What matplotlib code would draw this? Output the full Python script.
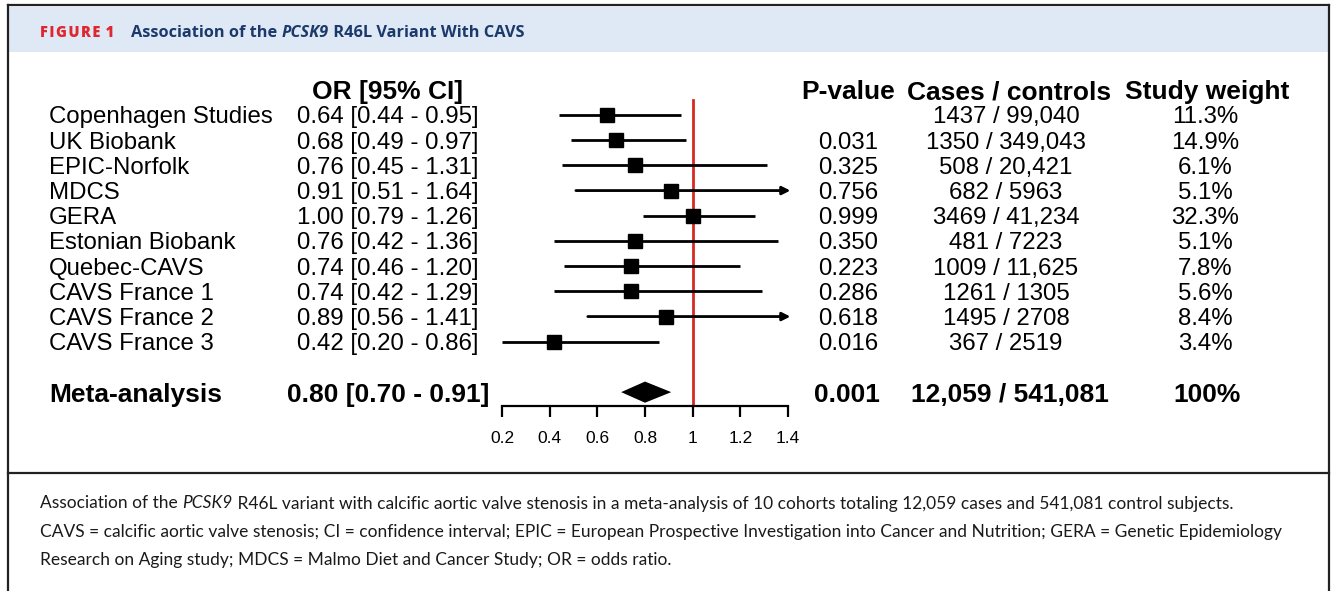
import matplotlib.pyplot as plt
from matplotlib.lines import Line2D
from matplotlib.patches import Rectangle
from matplotlib.transforms import blended_transform_factory

STUDIES = [
    "Copenhagen Studies", "UK Biobank", "EPIC-Norfolk", "MDCS", "GERA",
    "Estonian Biobank", "Quebec-CAVS", "CAVS France 1", "CAVS France 2", "CAVS France 3",
]
OR_EST = [0.64, 0.68, 0.76, 0.91, 1.00, 0.76, 0.74, 0.74, 0.89, 0.42]
CI_LOW = [0.44, 0.49, 0.45, 0.51, 0.79, 0.42, 0.46, 0.42, 0.56, 0.20]
CI_HIGH = [0.95, 0.97, 1.31, 1.64, 1.26, 1.36, 1.20, 1.29, 1.41, 0.86]
P_VALUES = ["", "0.031", "0.325", "0.756", "0.999", "0.350", "0.223", "0.286", "0.618", "0.016"]
CASES_CONTROLS = [
    "1437 / 99,040", "1350 / 349,043", "508 / 20,421", "682 / 5963", "3469 / 41,234",
    "481 / 7223", "1009 / 11,625", "1261 / 1305", "1495 / 2708", "367 / 2519",
]
WEIGHTS = ["11.3%", "14.9%", "6.1%", "5.1%", "32.3%", "5.1%", "7.8%", "5.6%", "8.4%", "3.4%"]

META_OR, META_LOW, META_HIGH = 0.80, 0.70, 0.91
META_P = "0.001"
META_CASES = "12,059 / 541,081"
META_WEIGHT = "100%"

X_TICKS = [0.2, 0.4, 0.6, 0.8, 1.0, 1.2, 1.4]
X_MIN, X_MAX = 0.2, 1.4

W, H = 1336, 591
FONT = "Liberation Sans"
TITLE_FONT = "Open Sans"
CAPTION_FONT = "Lato"
NAVY = "#1b3a6b"
RED = "#e0262f"


def fx(px):
    return px / W


def fy(py):
    return 1 - py / H


plt.rcParams["font.family"] = [FONT, "DejaVu Sans"]
fig = plt.figure(figsize=(W / 100, H / 100), dpi=100)

# frame, header band and separator
fig.add_artist(Rectangle((fx(9), fy(52)), fx(1328) - fx(9), fy(7) - fy(52),
                         transform=fig.transFigure, color="#dee9f5", lw=0, zorder=-5))
for xs, ys in [((8, 8), (5, 591)), ((1329, 1329), (5, 591)),
               ((8, 1329), (5, 5)), ((8, 1329), (473, 473))]:
    fig.add_artist(Line2D([fx(x) for x in xs], [fy(y) for y in ys],
                          transform=fig.transFigure, color="#222222", lw=1.6))

# forest plot axes
ax = fig.add_axes([fx(502), fy(406), fx(788) - fx(502), fy(79.7) - fy(406)])
ax.set_xlim(X_MIN, X_MAX)
ax.set_ylim(11.55, -1.4)
rows = list(range(len(STUDIES)))
meta_y = len(STUDIES) + 1
header_y = -1

ax.plot([1, 1], [-0.6, 11.55], color="#d42a22", lw=2, zorder=1)
for y, lo, hi, est in zip(rows, CI_LOW, CI_HIGH, OR_EST):
    if hi > X_MAX:
        ax.annotate("", xy=(X_MAX + 0.01, y), xytext=(lo, y), annotation_clip=False,
                    arrowprops=dict(arrowstyle="-|>", lw=2, color="black",
                                    mutation_scale=12, shrinkA=0, shrinkB=0))
    else:
        ax.plot([lo, hi], [y, y], color="black", lw=2, solid_capstyle="butt", zorder=2)
    ax.plot(est, y, marker="s", color="black", markersize=10, zorder=3)

ax.fill([META_LOW, META_OR, META_HIGH, META_OR],
        [meta_y, meta_y - 0.42, meta_y, meta_y + 0.42], color="black", lw=0, zorder=3)

for s in ["left", "top", "right"]:
    ax.spines[s].set_visible(False)
ax.spines["bottom"].set_linewidth(1.6)
ax.set_yticks([])
ax.set_xticks(X_TICKS)
ax.set_xticklabels([f"{v:g}" for v in X_TICKS])
ax.tick_params(axis="x", direction="out", length=8, width=1.6, pad=10, labelsize=12.5)
ax.patch.set_alpha(0)

# title
TITLE = dict(color=NAVY, fontsize=11.8, fontweight="bold", family=TITLE_FONT, va="bottom")
fig.text(fx(40), fy(31), "F\u200aI\u200aG\u200aU\u200aR\u200aE\u200a 1", color=RED,
         fontsize=10.5, fontweight="heavy", family=[TITLE_FONT, "DejaVu Sans"],
         va="center_baseline")
t1 = fig.text(fx(131), fy(31), "Association of the ", color=NAVY, fontsize=11.8,
              fontweight="bold", family=TITLE_FONT, va="center_baseline")
t2 = ax.annotate("PCSK9", xy=(1, 0), xycoords=t1, fontstyle="italic", **TITLE)
ax.annotate(" R46L Variant With CAVS", xy=(1, 0), xycoords=t2, **TITLE)

# text columns
tr = blended_transform_factory(fig.transFigure, ax.transData)
REG = dict(fontsize=17.3, va="center_baseline", transform=tr)
BOLD = dict(fontsize=19, va="center_baseline", fontweight="bold", transform=tr)
dy = 0.0

fig.text(fx(388), header_y + dy, "OR [95% CI]", ha="center", **BOLD)
fig.text(fx(848), header_y + dy, "P-value", ha="center", **BOLD)
fig.text(fx(1009), header_y + dy, "Cases / controls", ha="center", **BOLD)
fig.text(fx(1207), header_y + dy, "Study weight", ha="center", **BOLD)

for y, name, est, lo, hi, p, cc, w in zip(rows, STUDIES, OR_EST, CI_LOW, CI_HIGH,
                                          P_VALUES, CASES_CONTROLS, WEIGHTS):
    fig.text(fx(49), y + dy, name, ha="left", **REG)
    fig.text(fx(388), y + dy, f"{est:.2f} [{lo:.2f} - {hi:.2f}]", ha="center", **REG)
    fig.text(fx(848), y + dy, p, ha="center", **REG)
    fig.text(fx(1006), y + dy, cc, ha="center", **REG)
    fig.text(fx(1205), y + dy, w, ha="center", **REG)

fig.text(fx(49), meta_y + dy, "Meta-analysis", ha="left", **BOLD)
fig.text(fx(388), meta_y + dy, f"{META_OR:.2f} [{META_LOW:.2f} - {META_HIGH:.2f}]",
         ha="center", **BOLD)
fig.text(fx(847), meta_y + dy, META_P, ha="center", **BOLD)
fig.text(fx(1010), meta_y + dy, META_CASES, ha="center", **BOLD)
fig.text(fx(1207), meta_y + dy, META_WEIGHT, ha="center", **BOLD)

# caption
CAP = dict(fontsize=12.5, family=CAPTION_FONT, color="#1a1a1a")
c1 = fig.text(fx(40), fy(502), "Association of the ", va="center_baseline", **CAP)
c2 = ax.annotate("PCSK9", xy=(1, 0), xycoords=c1, va="bottom", fontstyle="italic", **CAP)
ax.annotate(" R46L variant with calcific aortic valve stenosis in a meta-analysis of 10 cohorts "
            "totaling 12,059 cases and 541,081 control subjects.",
            xy=(1, 0), xycoords=c2, va="bottom", **CAP)
fig.text(fx(40), fy(531), "CAVS = calcific aortic valve stenosis; CI = confidence interval; "
         "EPIC = European Prospective Investigation into Cancer and Nutrition; "
         "GERA = Genetic Epidemiology", va="center_baseline", **CAP)
fig.text(fx(40), fy(558), "Research on Aging study; MDCS = Malmo Diet and Cancer Study; "
         "OR = odds ratio.", va="center_baseline", **CAP)

fig.savefig("out.png", dpi=100)
